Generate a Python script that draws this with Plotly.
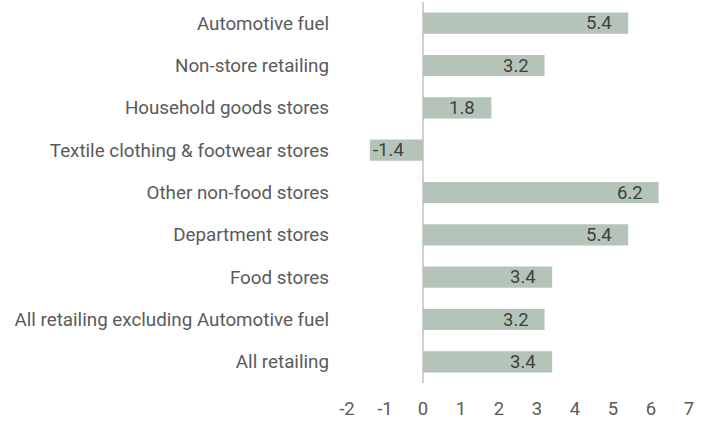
import plotly.graph_objects as go

categories = [
    "All retailing",
    "All retailing excluding Automotive fuel",
    "Food stores",
    "Department stores",
    "Other non-food stores",
    "Textile clothing & footwear stores",
    "Household goods stores",
    "Non-store retailing",
    "Automotive fuel",
]
values = [3.4, 3.2, 3.4, 5.4, 6.2, -1.4, 1.8, 3.2, 5.4]
tick_vals = [-2, -1, 0, 1, 2, 3, 4, 5, 6, 7]
tick_text = ["-2", "-1", "0", "1", "2", "3", "4", "5", "6", "7"]

fig = go.Figure(
    go.Bar(
        x=values,
        y=categories,
        orientation="h",
        marker=dict(color="#b5c4b8", line=dict(width=0)),
        width=0.5,
        hoverinfo="x+y",
    )
)

for cat, v in zip(categories, values):
    fig.add_annotation(
        x=v,
        y=cat,
        text=f"{v:.1f}",
        showarrow=False,
        xanchor="right" if v >= 0 else "left",
        xshift=-14 if v >= 0 else 1,
        yshift=0,
        font=dict(family="Roboto", size=18.5, color="#404040"),
    )

fig.update_layout(
    width=710,
    height=421,
    margin=dict(l=347, r=21, t=2, b=38),
    paper_bgcolor="white",
    plot_bgcolor="white",
    font=dict(family="Roboto", size=18.8, color="#5a5a5a"),
    showlegend=False,
)
fig.update_xaxes(
    range=[-2, 7],
    tickvals=tick_vals,
    ticktext=tick_text,
    showgrid=False,
    zeroline=True,
    zerolinecolor="#d0d0d0",
    zerolinewidth=2,
    showline=False,
    ticks="",
    ticklabelstandoff=12,
    tickfont=dict(family="Roboto", size=18.5, color="#5a5a5a"),
)
fig.update_yaxes(
    showgrid=False,
    zeroline=False,
    showline=False,
    ticks="",
    ticklabelstandoff=17,
    tickfont=dict(family="Roboto", size=18.8, color="#5a5a5a"),
)

fig.write_html("out.html")
